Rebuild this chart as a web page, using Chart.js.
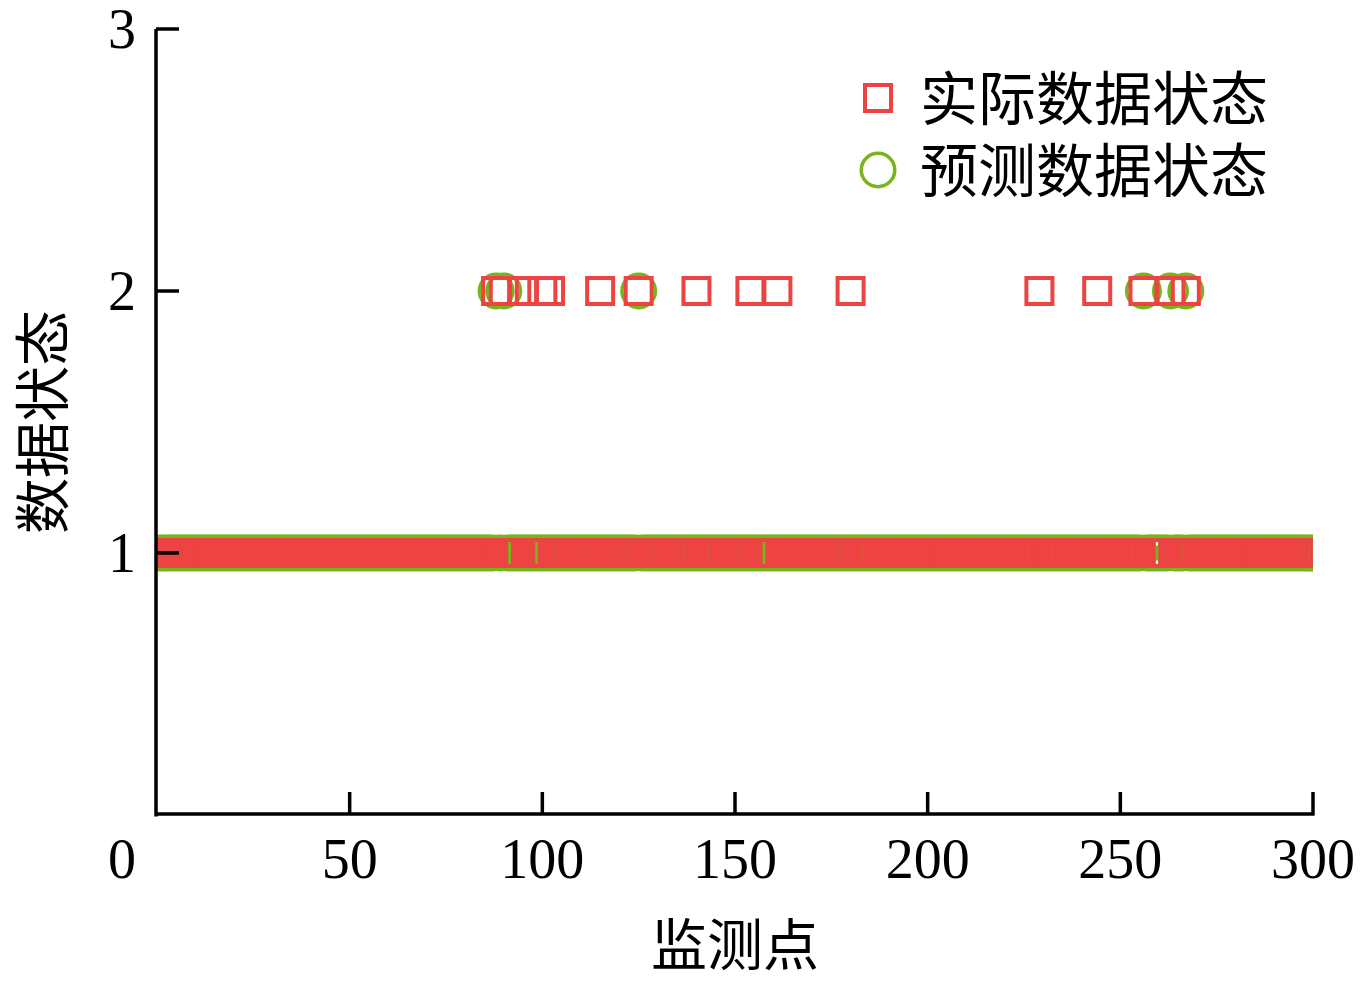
<!DOCTYPE html>
<html>
<head>
<meta charset="utf-8">
<script src="https://cdn.jsdelivr.net/npm/chart.js@4.4.1/dist/chart.umd.min.js"></script>
<style>
    html, body { margin: 0; padding: 0; background: #fff; }
    #wrap { width: 1362px; height: 987px; }
</style>
</head>
<body>
<div id="wrap"><canvas id="chart"></canvas></div>
<script>
// monitoring points 1..300, state (1 = normal, 2 = abnormal)
const actualStates = [
    1,1,1,1,1,1,1,1,1,1, 1,1,1,1,1,1,1,1,1,1, 1,1,1,1,1,1,1,1,1,1,
    1,1,1,1,1,1,1,1,1,1, 1,1,1,1,1,1,1,1,1,1, 1,1,1,1,1,1,1,1,1,1,
    1,1,1,1,1,1,1,1,1,1, 1,1,1,1,1,1,1,1,1,1, 1,1,1,1,1,1,1,2,1,2,
    1,1,1,1,2,1,1,1,1,2, 1,2,1,1,1,1,1,1,1,1, 1,1,1,1,2,1,1,1,1,1,
    1,1,1,1,2,1,1,1,1,1, 1,1,1,1,1,1,1,1,1,2, 1,1,1,1,1,1,1,1,1,1,
    1,1,1,2,1,1,1,1,1,1, 2,1,1,1,1,1,1,1,1,1, 1,1,1,1,1,1,1,1,1,2,
    1,1,1,1,1,1,1,1,1,1, 1,1,1,1,1,1,1,1,1,1, 1,1,1,1,1,1,1,1,1,1,
    1,1,1,1,1,1,1,1,1,1, 1,1,1,1,1,1,1,1,2,1, 1,1,1,1,1,1,1,1,1,1,
    1,1,1,2,1,1,1,1,1,1, 1,1,1,1,1,2,1,1,1,1, 1,1,2,1,1,1,2,1,1,1,
    1,1,1,1,1,1,1,1,1,1, 1,1,1,1,1,1,1,1,1,1, 1,1,1,1,1,1,1,1,1,1
];
const predictedStates = [
    1,1,1,1,1,1,1,1,1,1, 1,1,1,1,1,1,1,1,1,1, 1,1,1,1,1,1,1,1,1,1,
    1,1,1,1,1,1,1,1,1,1, 1,1,1,1,1,1,1,1,1,1, 1,1,1,1,1,1,1,1,1,1,
    1,1,1,1,1,1,1,1,1,1, 1,1,1,1,1,1,1,1,1,1, 1,1,1,1,1,1,1,2,1,2,
    1,1,1,1,1,1,1,1,1,1, 1,1,1,1,1,1,1,1,1,1, 1,1,1,1,1,1,1,1,1,1,
    1,1,1,1,2,1,1,1,1,1, 1,1,1,1,1,1,1,1,1,1, 1,1,1,1,1,1,1,1,1,1,
    1,1,1,1,1,1,1,1,1,1, 1,1,1,1,1,1,1,1,1,1, 1,1,1,1,1,1,1,1,1,1,
    1,1,1,1,1,1,1,1,1,1, 1,1,1,1,1,1,1,1,1,1, 1,1,1,1,1,1,1,1,1,1,
    1,1,1,1,1,1,1,1,1,1, 1,1,1,1,1,1,1,1,1,1, 1,1,1,1,1,1,1,1,1,1,
    1,1,1,1,1,1,1,1,1,1, 1,1,1,1,1,2,1,1,1,1, 1,1,2,1,1,1,2,1,1,1,
    1,1,1,1,1,1,1,1,1,1, 1,1,1,1,1,1,1,1,1,1, 1,1,1,1,1,1,1,1,1,1
];
const seriesNames = ['实际数据状态', '预测数据状态'];
const xTicks = [0, 50, 100, 150, 200, 250, 300];
const yTicks = [0, 1, 2, 3];

const RED = '#EE4343';
const GREEN = '#76B51B';
const CJK = '"Noto Sans CJK SC", "Noto Sans CJK JP", sans-serif';
const SERIF = '"Liberation Serif", "DejaVu Serif", serif';

Chart.defaults.font.family = SERIF;
Chart.defaults.color = '#000';

// --- axes drawn by hand: spines, inward ticks, tick labels ---
const axesPlugin = {
    id: 'axes',
    afterDatasetsDraw(chart) {
        const { ctx, chartArea: a, scales: { x, y } } = chart;
        ctx.save();
        ctx.strokeStyle = '#000';
        ctx.lineWidth = 3.5;
        ctx.beginPath();
        ctx.moveTo(a.left - 1, a.top);
        ctx.lineTo(a.left - 1, a.bottom + 1.5);
        ctx.moveTo(a.left - 2.5, a.bottom - 1);
        ctx.lineTo(a.right + 1.5, a.bottom - 1);
        xTicks.slice(1).forEach(v => {
            const px = x.getPixelForValue(v);
            ctx.moveTo(px, a.bottom);
            ctx.lineTo(px, a.bottom - 23);
        });
        yTicks.slice(1).forEach(v => {
            const py = y.getPixelForValue(v);
            ctx.moveTo(a.left - 1, py);
            ctx.lineTo(a.left + 22, py);
        });
        ctx.stroke();

        ctx.font = `56px ${SERIF}`;
        ctx.fillStyle = '#000';
        ctx.textBaseline = 'alphabetic';
        ctx.textAlign = 'center';
        xTicks.forEach(v => {
            // origin label sits left of the axis in the original
            const px = v === 0 ? x.getPixelForValue(v) - 35 : x.getPixelForValue(v);
            ctx.fillText(String(v), px, a.bottom + 63);
        });
        ctx.textAlign = 'right';
        yTicks.slice(1).forEach(v => {
            ctx.fillText(String(v), a.left - 21, y.getPixelForValue(v) + 19);
        });
        ctx.restore();
    }
};

// --- legend inside the plot, top right ---
const legendPlugin = {
    id: 'innerLegend',
    afterDraw(chart) {
        const { ctx, chartArea: a } = chart;
        const mx = a.right - 435;
        const rows = [a.top + 69, a.top + 141];
        ctx.save();
        ctx.lineWidth = 4;
        ctx.strokeStyle = RED;
        ctx.strokeRect(mx - 13, rows[0] - 13, 26, 26);
        ctx.lineWidth = 3.5;
        ctx.strokeStyle = GREEN;
        ctx.beginPath();
        ctx.arc(mx, rows[1], 16.75, 0, Math.PI * 2);
        ctx.stroke();
        ctx.font = `58px ${CJK}`;
        ctx.fillStyle = '#000';
        ctx.textAlign = 'left';
        ctx.textBaseline = 'middle';
        chart.data.datasets.forEach((ds, i) => {
            ctx.fillText(ds.label, mx + 42, rows[i]);
        });
        ctx.restore();
    }
};

new Chart(document.getElementById('chart'), {
    type: 'scatter',
    data: {
        datasets: [
            {
                label: seriesNames[0],
                data: actualStates.map((s, i) => ({ x: i + 1, y: s })),
                pointStyle: 'rect',
                pointRadius: 18.4,
                pointHoverRadius: 18.4,
                pointBorderWidth: 4,
                borderColor: RED,
                backgroundColor: 'rgba(0,0,0,0)',
                clip: 0
            },
            {
                label: seriesNames[1],
                data: predictedStates.map((s, i) => ({ x: i + 1, y: s })),
                pointStyle: 'circle',
                pointRadius: 16.75,
                pointHoverRadius: 16.75,
                pointBorderWidth: 3.5,
                borderColor: GREEN,
                backgroundColor: 'rgba(0,0,0,0)',
                clip: 0
            }
        ]
    },
    options: {
        responsive: true,
        maintainAspectRatio: false,
        animation: false,
        events: [],
        layout: { padding: { left: 0, top: 29, right: 49, bottom: 0 } },
        plugins: {
            legend: { display: false },
            tooltip: { enabled: false }
        },
        scales: {
            x: {
                type: 'linear',
                min: 0,
                max: 300,
                afterBuildTicks: s => { s.ticks = xTicks.map(v => ({ value: v })); },
                ticks: { display: false },
                grid: { display: false },
                border: { display: false },
                title: {
                    display: true,
                    text: '监测点',
                    color: '#000',
                    font: { family: CJK, size: 56, lineHeight: 1.2 },
                    padding: { top: 0, bottom: 10 }
                },
                afterFit: s => { s.height = 172; }
            },
            y: {
                min: 0,
                max: 3,
                afterBuildTicks: s => { s.ticks = yTicks.map(v => ({ value: v })); },
                ticks: { display: false },
                grid: { display: false },
                border: { display: false },
                title: {
                    display: true,
                    text: '数据状态',
                    color: '#000',
                    font: { family: CJK, size: 56, lineHeight: 1.2 },
                    padding: { top: 8, bottom: 0 }
                },
                afterFit: s => { s.width = 157; }
            }
        }
    },
    plugins: [axesPlugin, legendPlugin]
});
</script>
</body>
</html>
